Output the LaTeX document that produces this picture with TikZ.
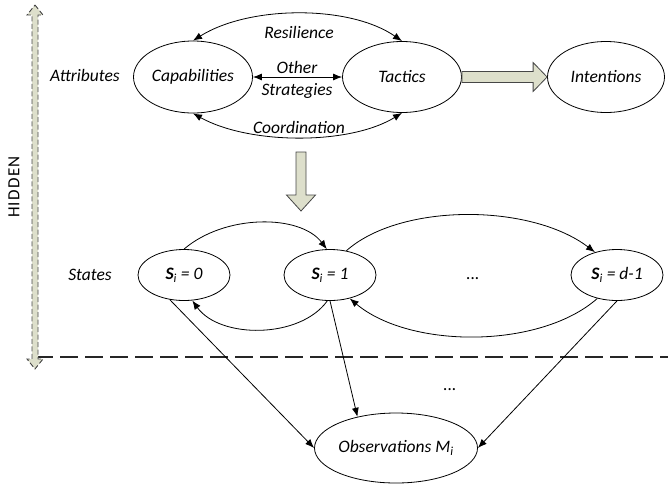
\documentclass[tikz,border=0pt]{standalone}
\usepackage{fontspec}
\setmainfont{Carlito}
\usetikzlibrary{shapes.geometric,arrows.meta,calc}
\definecolor{blk}{RGB}{221,223,203}
\definecolor{edg}{RGB}{70,70,70}
\begin{document}
\begin{tikzpicture}[x=1pt,y=-1pt,
  ell/.style={ellipse,draw,line width=0.8pt,inner sep=0pt,font=\fontsize{17.5}{20}\selectfont\itshape},
  lbl/.style={inner sep=0pt,font=\fontsize{17.5}{20}\selectfont\itshape},
  con/.style={line width=0.8pt,-{Latex[length=9pt,width=7pt]}},
  dcon/.style={line width=0.8pt,{Latex[length=9pt,width=7pt]}-{Latex[length=9pt,width=7pt]}},
  blockarrow/.style={fill=blk,draw=edg,line width=0.8pt,line join=miter}]
\useasboundingbox (0,0) rectangle (668,485);
% top ellipses
\node[ell,minimum width=119pt,minimum height=72pt] (cap) at (193,77) {Capabilities};
\node[ell,minimum width=119pt,minimum height=71pt] (tac) at (402,77) {Tactics};
\node[ell,minimum width=117pt,minimum height=71pt] (int) at (606,77) {Intentions};
\node[lbl] (attr) at (85,75) {Attributes};
\node[lbl] (res) at (299,32) {Resilience};
\node[lbl] (oth) at (297,67) {Other};
\node[lbl] (str) at (297,91) {Strategies};
\node[lbl] (coo) at (299,127) {Coordination};
\draw[dcon] (cap.north) .. controls (250,5) and (350,5) .. (tac.north);
\draw[dcon] (cap.south) .. controls (250,145) and (350,145) .. (tac.south);
\draw[dcon] (cap.east) -- (tac.west);
% block arrow tactics -> intentions
\coordinate (ba) at (tac.east);
\coordinate (bb) at (int.west);
\draw[blockarrow] ($(ba)+(0,-5.5)$) -- ($(bb)+(-14,-5.5)$) -- ($(bb)+(-14,-14.5)$) -- (bb)
  -- ($(bb)+(-14,14.5)$) -- ($(bb)+(-14,5.5)$) -- ($(ba)+(0,5.5)$) -- cycle;
% down block arrow
\coordinate (da) at (301,152);
\coordinate (db) at (301,211);
\draw[blockarrow] ($(da)+(-5,0)$) -- ($(db)+(-5,-16)$) -- ($(db)+(-14.5,-16)$) -- (db)
  -- ($(db)+(14.5,-16)$) -- ($(db)+(5,-16)$) -- ($(da)+(5,0)$) -- cycle;
% states
\node[ell,minimum width=92pt,minimum height=51pt] (s0) at (184,275) {{\bfseries S}\textsubscript{\itshape i} = 0};
\node[ell,minimum width=92pt,minimum height=51pt] (s1) at (330,275) {{\bfseries S}\textsubscript{\itshape i} = 1};
\node[ell,minimum width=92pt,minimum height=51pt] (sd) at (617,275) {{\bfseries S}\textsubscript{\itshape i} = \textit{d}-1};
\node[lbl] (states) at (90,275) {States};
\node[lbl] (dots1) at (473,279) {...};
\draw[con] (s0.north) .. controls (225,214) and (300,214) .. (s1.97);
\draw[con] (s1.264) .. controls (300,339) and (220,339) .. (s0.-72);
\draw[con] (s1.56) .. controls (400,203) and (530,203) .. (sd.134);
\draw[con] (sd.230) .. controls (540,349) and (410,349) .. (s1.-50);
% dashed separator
\coordinate (dl) at (35,357);
\coordinate (dr) at (668,357);
\draw[line width=2.5pt,dash pattern=on 18pt off 7pt,color=black!85] (dl) -- (dr);
% observations
\node[ell,minimum width=160pt,minimum height=70pt] (obs) at (396,448) {Observations M\textsubscript{\itshape i}};
\node[lbl] (dots2) at (450,390) {...};
\draw[con] (s0.240) -- (obs.180);
\draw[con] (s1.south) -- (obs.141);
\draw[con] (sd.south) -- (obs.0);
% hidden arrow
\coordinate (ht) at (35,5);
\coordinate (hb) at (35,369);
\draw[blockarrow,dash pattern=on 5pt off 2.5pt,line width=0.9pt] (ht) -- ($(ht)+(8,10)$) -- ($(ht)+(3,10)$) -- ($(hb)+(3,-10)$) -- ($(hb)+(8,-10)$) -- (hb)
  -- ($(hb)+(-8,-10)$) -- ($(hb)+(-3,-10)$) -- ($(ht)+(-3,10)$) -- ($(ht)+(-8,10)$) -- cycle;
\node[inner sep=0pt,rotate=90,font=\fontsize{17}{20}\selectfont\addfontfeatures{LetterSpace=8}] (hid) at (14,187) {HIDDEN};
\end{tikzpicture}
\end{document}
